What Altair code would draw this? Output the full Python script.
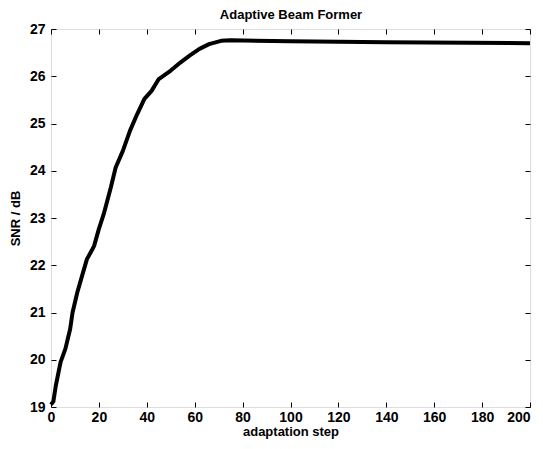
import altair as alt
import pandas as pd

# data
steps = [0, 1, 2, 4, 6, 8, 9, 11, 13, 15, 17, 18, 20, 22, 25, 27, 30, 33, 36, 39, 42, 45,
         50, 54, 58, 62, 66, 71, 75, 100, 140, 200]
snr = [19.05, 19.12, 19.45, 19.95, 20.23, 20.65, 21.0, 21.43, 21.78, 22.13, 22.31, 22.41,
       22.77, 23.08, 23.65, 24.07, 24.42, 24.85, 25.2, 25.52, 25.69, 25.94, 26.12, 26.29,
       26.44, 26.58, 26.68, 26.75, 26.76, 26.74, 26.72, 26.70]
x_ticks = [0, 20, 40, 60, 80, 100, 120, 140, 160, 180, 200]
y_ticks = [19, 20, 21, 22, 23, 24, 25, 26, 27]
title_text = "Adaptive Beam Former"
x_title = "adaptation step"
y_title = "SNR / dB"

df = pd.DataFrame({"step": steps, "snr": snr})

FONT = "Liberation Sans"
x_scale = alt.Scale(domain=[0, 200], nice=False, zero=False)
y_scale = alt.Scale(domain=[19, 27], nice=False, zero=False)

common = dict(offset=-5, tickSize=5, domain=False, grid=False, tickColor="black",
              tickWidth=1, labelFont=FONT, labelFontSize=14, labelFontWeight="bold",
              labelColor="black", titleFont=FONT, titleFontSize=13,
              titleFontWeight="bold", titleColor="black")

line = alt.Chart(df).mark_line(color="black", strokeWidth=4, strokeJoin="round").encode(
    x=alt.X("step:Q", scale=x_scale,
            axis=alt.Axis(orient="bottom", values=x_ticks, title=x_title,
                          labelPadding=3, titlePadding=1,
                          labelAlign=alt.condition("datum.value == 200",
                                                   alt.value("right"), alt.value("center")),
                          **common)),
    y=alt.Y("snr:Q", scale=y_scale,
            axis=alt.Axis(orient="left", values=y_ticks, title=y_title,
                          labelPadding=6, titlePadding=7, **common)),
)

mirror = alt.Chart(df).mark_line(opacity=0).encode(
    x=alt.X("step:Q", scale=x_scale,
            axis=alt.Axis(orient="top", values=x_ticks, title=title_text, labels=False,
                          titlePadding=7, **common)),
    y=alt.Y("snr:Q", scale=y_scale,
            axis=alt.Axis(orient="right", values=y_ticks, title=None, labels=False, **common)),
)

chart = alt.layer(line, mirror).resolve_axis(x="independent", y="independent").properties(
    width=479, height=378,
    autosize=alt.AutoSizeParams(type="none"),
    padding={"left": 43, "top": 21, "right": 5, "bottom": 34},
).configure_view(stroke="black", strokeWidth=1).configure(background="white")

chart.save("out.html", embed_options={"renderer": "svg", "actions": False})
